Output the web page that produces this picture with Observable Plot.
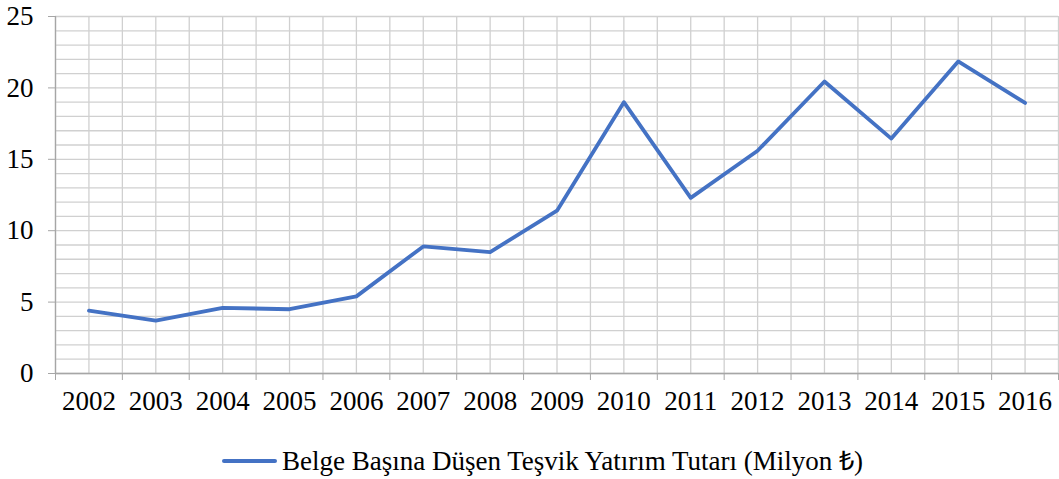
<!DOCTYPE html>
<html>
<head>
<meta charset="utf-8">
<script src="https://cdn.jsdelivr.net/npm/d3@7"></script>
<script src="https://cdn.jsdelivr.net/npm/@observablehq/plot@0.6"></script>
<style>
  body { margin: 0; background: #fff; font-family: "Liberation Serif", "Times New Roman", serif; }
  #chart svg { display: block; }
  #legend { display: flex; justify-content: center; align-items: center; font-size: 27px; line-height: 32px; color: #000; margin-top: 20px; padding-left: 26px; }
  #legend .sw { width: 55px; height: 4px; background: #4472C4; margin-right: 5px; border-radius: 2px; }
</style>
</head>
<body>
<div id="chart"></div>
<div id="legend"><span class="sw"></span><span id="legendText"></span></div>
<script>
const years = [2002, 2003, 2004, 2005, 2006, 2007, 2008, 2009, 2010, 2011, 2012, 2013, 2014, 2015, 2016];
const values = [4.4, 3.7, 4.6, 4.5, 5.4, 8.9, 8.5, 11.4, 19.0, 12.3, 15.6, 20.45, 16.45, 21.85, 18.95];
const yTicks = [0, 5, 10, 15, 20, 25];
const seriesName = "Belge Başına Düşen Teşvik Yatırım Tutarı (Milyon ₺)";

const data = years.map((y, i) => ({year: y, value: values[i]}));
const xMin = years[0] - 0.5, xMax = years[years.length - 1] + 0.5;
const boundaries = d3.range(xMin, xMax + 0.01, 1);
const halfGrid = d3.range(xMin, xMax + 0.01, 0.5);
const minorY = d3.range(0, 25.01, 1);

const chart = Plot.plot({
  width: 1059,
  height: 425,
  marginTop: 16,
  marginBottom: 52,
  marginLeft: 55,
  marginRight: 1,
  style: {fontFamily: "'Liberation Serif', 'Times New Roman', serif", fontSize: "27px", color: "#000", background: "#fff"},
  x: {type: "linear", domain: [xMin, xMax]},
  y: {domain: [0, 25]},
  marks: [
    Plot.gridX(halfGrid, {stroke: "#d0d0d0", strokeOpacity: 1, strokeWidth: 1.3}),
    Plot.gridY(minorY, {stroke: "#d0d0d0", strokeOpacity: 1, strokeWidth: 1.3}),
    Plot.ruleX([xMin], {stroke: "#a6a6a6", strokeWidth: 1.3}),
    Plot.ruleY([0], {stroke: "#a6a6a6", strokeWidth: 1.3}),
    Plot.axisY({ticks: yTicks, tickSize: 7, tickPadding: 15, stroke: "#a6a6a6", label: null, fontSize: 27}),
    Plot.axisX({ticks: boundaries, tickSize: 7, tickFormat: () => "", stroke: "#a6a6a6", label: null}),
    Plot.axisX({ticks: years, tickSize: 0, tickPadding: 17, tickFormat: d => String(d), label: null, fontSize: 27}),
    Plot.line(data, {x: "year", y: "value", stroke: "#4472C4", strokeWidth: 3.8, strokeLinejoin: "round", strokeLinecap: "round"})
  ]
});
document.getElementById("chart").appendChild(chart);
document.getElementById("legendText").textContent = seriesName;
</script>
</body>
</html>
